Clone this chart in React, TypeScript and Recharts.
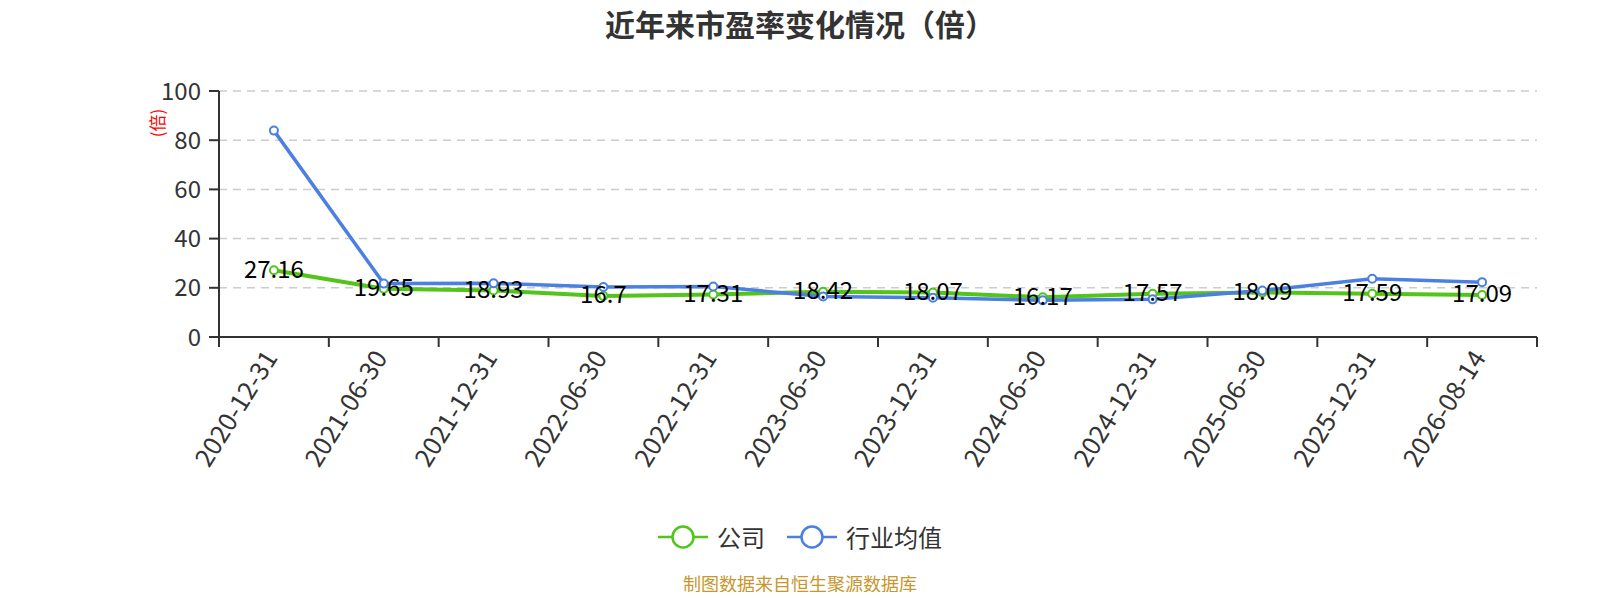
import { LineChart, Line, XAxis, YAxis, CartesianGrid, LabelList } from "recharts";

const dates = [
  "2020-12-31",
  "2021-06-30",
  "2021-12-31",
  "2022-06-30",
  "2022-12-31",
  "2023-06-30",
  "2023-12-31",
  "2024-06-30",
  "2024-12-31",
  "2025-06-30",
  "2025-12-31",
  "2026-08-14",
];
const companyPE = [27.16, 19.65, 18.93, 16.7, 17.31, 18.42, 18.07, 16.17, 17.57, 18.09, 17.59, 17.09];
const industryPE = [83.9, 21.7, 21.8, 20.3, 20.5, 16.5, 16.0, 14.9, 15.3, 18.9, 23.7, 22.3];
const yTicks = [0, 20, 40, 60, 80, 100];

const GREEN = "#52c41a";
const BLUE = "#4b80e2";
const FONT = '"Noto Sans CJK SC", "Noto Sans", sans-serif';

const W = 1584;
const H = 584;
const PLOT_LEFT = 211;
const PLOT_RIGHT = 1529;
const BAND = (PLOT_RIGHT - PLOT_LEFT) / dates.length;

const chartData = dates.map((d, i) => ({
  x: i + 0.5,
  date: d,
  company: companyPE[i],
  industry: industryPE[i],
}));

function DateTick(props: any) {
  const { x, y, payload, index } = props;
  const label = dates[Math.floor(payload.value)];
  const tx = x - 3;
  const ty = y + 6;
  return (
    <g>
      <line x1={x - BAND / 2} y1={y - 10} x2={x - BAND / 2} y2={y} stroke="#333" strokeWidth={2} />
      {index === dates.length - 1 && (
        <line x1={x + BAND / 2} y1={y - 10} x2={x + BAND / 2} y2={y} stroke="#333" strokeWidth={2} />
      )}
      <text
        x={tx}
        y={ty}
        dy="0.35em"
        textAnchor="end"
        fontSize={25.5}
        fill="#333"
        fontFamily={FONT}
        transform={`rotate(-58 ${tx} ${ty})`}
      >
        {label}
      </text>
    </g>
  );
}

function ValueLabel(props: any) {
  const { x, y, value } = props;
  return (
    <text x={x} y={y - 3} dominantBaseline="central" textAnchor="middle" fontSize={24} fill="#000" fontFamily={FONT}>
      {value}
    </text>
  );
}

function LegendIcon({ color }: { color: string }) {
  return (
    <svg width={50} height={26}>
      <line x1={0} y1={13} x2={50} y2={13} stroke={color} strokeWidth={2.5} />
      <circle cx={25} cy={13} r={10.5} fill="#fff" stroke={color} strokeWidth={2.5} />
    </svg>
  );
}

export default function App() {
  return (
    <div style={{ position: "relative", width: W, height: H, fontFamily: FONT }}>
      <div
        style={{
          position: "absolute",
          top: 0,
          left: 0,
          width: W,
          textAlign: "center",
          fontSize: 30,
          lineHeight: "30px",
          fontWeight: "bold",
          color: "#333",
        }}
      >
        近年来市盈率变化情况（倍）
      </div>
      <div
        style={{
          position: "absolute",
          left: 148,
          top: 115,
          transform: "translate(-50%, -50%) rotate(-90deg)",
          fontSize: 17,
          lineHeight: "17px",
          color: "#ff0000",
          whiteSpace: "nowrap",
        }}
      >
        (倍)
      </div>
      <LineChart
        width={W}
        height={H}
        data={chartData}
        margin={{ top: 83, right: W - PLOT_RIGHT, left: PLOT_LEFT - 60, bottom: 105 }}
      >
        <CartesianGrid vertical={false} stroke="#ccc" strokeWidth={1.5} strokeDasharray="8 6" />
        <XAxis
          type="number"
          dataKey="x"
          domain={[0, dates.length]}
          ticks={chartData.map((d) => d.x)}
          interval={0}
          height={150}
          tickLine={false}
          tickSize={10}
          tickMargin={0}
          axisLine={{ stroke: "#333", strokeWidth: 2 }}
          tick={<DateTick />}
        />
        <YAxis
          width={60}
          domain={[0, 100]}
          ticks={yTicks}
          interval={0}
          tickSize={10}
          tickMargin={8}
          axisLine={{ stroke: "#333", strokeWidth: 2 }}
          tickLine={{ stroke: "#333", strokeWidth: 2 }}
          tick={{ fontSize: 24, fill: "#333", fontFamily: FONT }}
        />
        <Line
          dataKey="company"
          stroke={GREEN}
          strokeWidth={4}
          dot={{ r: 4, fill: "#fff", stroke: GREEN, strokeWidth: 2 }}
          isAnimationActive={false}
        >
          <LabelList dataKey="company" content={<ValueLabel />} />
        </Line>
        <Line
          dataKey="industry"
          stroke={BLUE}
          strokeWidth={3.5}
          dot={{ r: 4, fill: "#fff", stroke: BLUE, strokeWidth: 2 }}
          isAnimationActive={false}
        />
      </LineChart>
      <div
        style={{
          position: "absolute",
          top: 529 - 15,
          left: 0,
          width: W,
          display: "flex",
          justifyContent: "center",
          alignItems: "center",
          gap: 22,
          fontSize: 24,
          lineHeight: "30px",
          color: "#333",
        }}
      >
        <div style={{ display: "flex", alignItems: "center", gap: 9 }}>
          <LegendIcon color={GREEN} />
          <span>公司</span>
        </div>
        <div style={{ display: "flex", alignItems: "center", gap: 9 }}>
          <LegendIcon color={BLUE} />
          <span>行业均值</span>
        </div>
      </div>
      <div
        style={{
          position: "absolute",
          top: 575 - 12,
          left: 0,
          width: W,
          textAlign: "center",
          fontSize: 18,
          lineHeight: "24px",
          color: "#c8962d",
        }}
      >
        制图数据来自恒生聚源数据库
      </div>
    </div>
  );
}
